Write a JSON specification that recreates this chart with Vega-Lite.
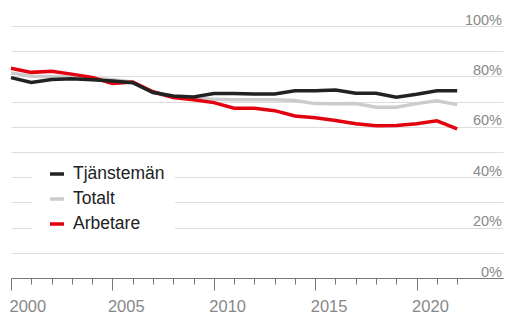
{
  "$schema": "https://vega.github.io/schema/vega-lite/v6.json",
  "width": 492,
  "height": 252,
  "autosize": {"type": "none"},
  "padding": {"left": 11, "top": 26, "right": 2, "bottom": 36},
  "config": {
    "view": {"stroke": null},
    "font": "Liberation Sans"
  },
  "data": {
    "values": [
      {"year": 2000, "group": "Totalt", "value": 81.4},
      {"year": 2001, "group": "Totalt", "value": 80.1},
      {"year": 2002, "group": "Totalt", "value": 80.0},
      {"year": 2003, "group": "Totalt", "value": 79.9},
      {"year": 2004, "group": "Totalt", "value": 79.3},
      {"year": 2005, "group": "Totalt", "value": 78.7},
      {"year": 2006, "group": "Totalt", "value": 77.8},
      {"year": 2007, "group": "Totalt", "value": 73.9},
      {"year": 2008, "group": "Totalt", "value": 72.0},
      {"year": 2009, "group": "Totalt", "value": 71.3},
      {"year": 2010, "group": "Totalt", "value": 70.9},
      {"year": 2011, "group": "Totalt", "value": 70.7},
      {"year": 2012, "group": "Totalt", "value": 70.7},
      {"year": 2013, "group": "Totalt", "value": 70.7},
      {"year": 2014, "group": "Totalt", "value": 70.4},
      {"year": 2015, "group": "Totalt", "value": 69.2},
      {"year": 2016, "group": "Totalt", "value": 69.1},
      {"year": 2017, "group": "Totalt", "value": 69.2},
      {"year": 2018, "group": "Totalt", "value": 67.8},
      {"year": 2019, "group": "Totalt", "value": 67.8},
      {"year": 2020, "group": "Totalt", "value": 69.2},
      {"year": 2021, "group": "Totalt", "value": 70.3},
      {"year": 2022, "group": "Totalt", "value": 68.8},
      {"year": 2000, "group": "Arbetare", "value": 83.2},
      {"year": 2001, "group": "Arbetare", "value": 81.6},
      {"year": 2002, "group": "Arbetare", "value": 82.0},
      {"year": 2003, "group": "Arbetare", "value": 80.9},
      {"year": 2004, "group": "Arbetare", "value": 79.6},
      {"year": 2005, "group": "Arbetare", "value": 77.2},
      {"year": 2006, "group": "Arbetare", "value": 77.8},
      {"year": 2007, "group": "Arbetare", "value": 73.9},
      {"year": 2008, "group": "Arbetare", "value": 71.6},
      {"year": 2009, "group": "Arbetare", "value": 70.7},
      {"year": 2010, "group": "Arbetare", "value": 69.6},
      {"year": 2011, "group": "Arbetare", "value": 67.4},
      {"year": 2012, "group": "Arbetare", "value": 67.4},
      {"year": 2013, "group": "Arbetare", "value": 66.4},
      {"year": 2014, "group": "Arbetare", "value": 64.3},
      {"year": 2015, "group": "Arbetare", "value": 63.6},
      {"year": 2016, "group": "Arbetare", "value": 62.5},
      {"year": 2017, "group": "Arbetare", "value": 61.2},
      {"year": 2018, "group": "Arbetare", "value": 60.4},
      {"year": 2019, "group": "Arbetare", "value": 60.5},
      {"year": 2020, "group": "Arbetare", "value": 61.2},
      {"year": 2021, "group": "Arbetare", "value": 62.4},
      {"year": 2022, "group": "Arbetare", "value": 59.2},
      {"year": 2000, "group": "Tjänstemän", "value": 79.5},
      {"year": 2001, "group": "Tjänstemän", "value": 77.6},
      {"year": 2002, "group": "Tjänstemän", "value": 78.8},
      {"year": 2003, "group": "Tjänstemän", "value": 79.1},
      {"year": 2004, "group": "Tjänstemän", "value": 78.7},
      {"year": 2005, "group": "Tjänstemän", "value": 78.2},
      {"year": 2006, "group": "Tjänstemän", "value": 77.5},
      {"year": 2007, "group": "Tjänstemän", "value": 73.6},
      {"year": 2008, "group": "Tjänstemän", "value": 72.2},
      {"year": 2009, "group": "Tjänstemän", "value": 71.8},
      {"year": 2010, "group": "Tjänstemän", "value": 73.2},
      {"year": 2011, "group": "Tjänstemän", "value": 73.2},
      {"year": 2012, "group": "Tjänstemän", "value": 73.0},
      {"year": 2013, "group": "Tjänstemän", "value": 73.0},
      {"year": 2014, "group": "Tjänstemän", "value": 74.3},
      {"year": 2015, "group": "Tjänstemän", "value": 74.3},
      {"year": 2016, "group": "Tjänstemän", "value": 74.6},
      {"year": 2017, "group": "Tjänstemän", "value": 73.3},
      {"year": 2018, "group": "Tjänstemän", "value": 73.3},
      {"year": 2019, "group": "Tjänstemän", "value": 71.7},
      {"year": 2020, "group": "Tjänstemän", "value": 72.9},
      {"year": 2021, "group": "Tjänstemän", "value": 74.3},
      {"year": 2022, "group": "Tjänstemän", "value": 74.3}
    ]
  },
  "mark": {"type": "line", "strokeWidth": 3.5, "strokeJoin": "miter"},
  "encoding": {
    "x": {
      "field": "year",
      "type": "quantitative",
      "scale": {"domain": [2000, 2024.26], "nice": false, "zero": false},
      "axis": {
        "title": null,
        "grid": false,
        "values": [2000, 2001, 2002, 2003, 2004, 2005, 2006, 2007, 2008, 2009, 2010, 2011, 2012, 2013, 2014, 2015, 2016, 2017, 2018, 2019, 2020, 2021, 2022],
        "format": "d",
        "labelExpr": "datum.value % 5 === 0 ? datum.label : ''",
        "domainColor": "#777",
        "tickColor": "#777",
        "tickSize": {"condition": {"test": "datum.value % 5 === 0", "value": 12}, "value": 6},
        "labelAlign": "left",
        "labelBaseline": "top",
        "labelOffset": {"condition": {"test": "datum.value === 2000", "value": -2}, "value": -5},
        "labelPadding": 8,
        "labelFontSize": 16.5,
        "labelColor": "#888",
        "labelFlush": false,
        "labelOverlap": false
      }
    },
    "y": {
      "field": "value",
      "type": "quantitative",
      "scale": {"domain": [0, 100], "nice": false},
      "axis": {
        "title": null,
        "orient": "right",
        "values": [0, 10, 20, 30, 40, 50, 60, 70, 80, 90, 100],
        "labelExpr": "datum.value % 20 === 0 ? datum.value + '%' : ''",
        "domain": false,
        "ticks": false,
        "tickSize": 0,
        "gridColor": "#dddddd",
        "gridWidth": 1,
        "labelAlign": "right",
        "labelBaseline": "alphabetic",
        "labelOffset": -2,
        "labelPadding": -1.5,
        "labelFontSize": 14.5,
        "labelColor": "#888",
        "labelOverlap": false
      }
    },
    "color": {
      "field": "group",
      "type": "nominal",
      "sort": null,
      "scale": {
        "domain": ["Tjänstemän", "Totalt", "Arbetare"],
        "range": ["#222222", "#cccccc", "#e3000f"]
      },
      "legend": {
        "title": null,
        "orient": "none",
        "legendX": 21,
        "legendY": 129,
        "fillColor": "white",
        "padding": 10,
        "symbolType": "stroke",
        "symbolSize": 196,
        "symbolStrokeWidth": 3.5,
        "symbolOffset": 6,
        "labelOffset": 7,
        "labelFontSize": 17.5,
        "labelColor": "#222",
        "rowPadding": 7
      }
    }
  }
}
